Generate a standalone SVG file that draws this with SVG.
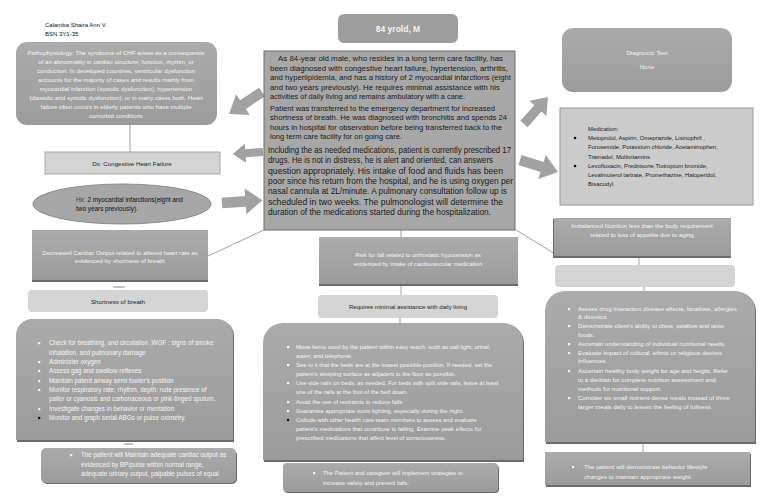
<svg xmlns="http://www.w3.org/2000/svg" width="768" height="497" viewBox="0 0 768 497">
<style>
text{font-family:"Liberation Sans",Arial,sans-serif;}
.w{fill:#f4f4f4;font-size:6.3px;}
.wc{fill:#f4f4f4;font-size:6.1px;text-anchor:middle;}
.d{fill:#222;font-size:6px;}
.dc{fill:#222;font-size:6.2px;text-anchor:middle;}
.m{fill:#1a1a1a;font-size:8px;}
.m3{fill:#1a1a1a;font-size:8.6px;}
.med{fill:#1a1a1a;font-size:5.9px;}
.ci{fill:#f4f4f4;font-size:5.9px;}
.ri{fill:#f4f4f4;font-size:6.1px;}
.conn{stroke:#a3a3a3;stroke-width:1;fill:none;}
.arrow{fill:#a2a2a2;}
.light{fill:#d4d4d4;}
.dark{fill:url(#g1);}
.shadow{fill:#6a6a6a;}
</style>
<defs>
<linearGradient id="g1" x1="0" y1="0" x2="0" y2="1">
<stop offset="0" stop-color="#ababab"/>
<stop offset="1" stop-color="#9b9b9b"/>
</linearGradient>
<path id="arr" d="M0,-5 H22 V-12 L38,0 L22,12 V5 H0 Z"/>
</defs>

<g id="header">
<text class="d" x="45" y="27" style="fill:#111">Calamba Shaira Ann V.</text>
<text class="d" x="45" y="36" style="fill:#111">BSN 3Y1-35</text>
</g>

<g id="connectors">
<line class="conn" x1="130" y1="125" x2="130" y2="152"/>
<line class="conn" x1="208" y1="256" x2="264" y2="230"/>
<line x1="113" y1="287" x2="125" y2="287" stroke="#8a8a8a" stroke-width="1"/>
<line x1="124" y1="444" x2="133" y2="444" stroke="#8a8a8a" stroke-width="1"/>
<line class="conn" x1="401" y1="230" x2="401" y2="237"/>
<line class="conn" x1="401" y1="285" x2="401" y2="295"/>
<line class="conn" x1="400" y1="318" x2="400" y2="323"/>
<line class="conn" x1="513" y1="228" x2="555" y2="254"/>
<line class="conn" x1="639" y1="257" x2="639" y2="265"/>
<line class="conn" x1="644" y1="287" x2="644" y2="292"/>
<line class="conn" x1="643" y1="442" x2="643" y2="452"/>
<use href="#arr" class="arrow" transform="translate(262,92) rotate(146.3) scale(1.04)"/>
<use href="#arr" class="arrow" transform="translate(263,152) rotate(176) scale(0.8)"/>
<use href="#arr" class="arrow" transform="translate(222,203) rotate(-4) scale(1.07)"/>
<use href="#arr" class="arrow" transform="translate(524,124) rotate(-48.4) scale(0.95)"/>
<use href="#arr" class="arrow" transform="translate(520,160) rotate(17.5) scale(1.05)"/>
</g>

<g id="patho">
<rect x="16" y="42" width="201" height="83" rx="11" class="dark"/>
<text class="wc" x="116" y="55">Pathophysiology: The syndrome of CHF arises as a consequence</text>
<text class="wc" x="116" y="64">of an abnormality in cardiac structure, function, rhythm, or</text>
<text class="wc" x="116" y="73">conduction. In developed countries, ventricular dysfunction</text>
<text class="wc" x="116" y="82">accounts for the majority of cases and results mainly from</text>
<text class="wc" x="116" y="91">myocardial infarction (systolic dysfunction), hypertension</text>
<text class="wc" x="116" y="100">(diastolic and systolic dysfunction), or in many cases both. Heart</text>
<text class="wc" x="116" y="109">failure often occurs in elderly patients who have multiple</text>
<text class="wc" x="116" y="118">comorbid conditions</text>
</g>

<g id="dx">
<rect x="45" y="152" width="175" height="22" class="light" stroke="#a8a8a8"/>
<text class="dc" x="132" y="166">Dx: Congestive Heart Failure</text>
</g>

<g id="hx">
<ellipse cx="122" cy="204" rx="89" ry="20" fill="#a6a6a6" stroke="#8c8c8c"/>
<text x="76" y="202" style="font-size:6.4px;fill:#111"><tspan style="fill:#3a3a3a">Hx: </tspan>2 myocardial infarctions(eight and</text>
<text x="76" y="211" style="font-size:6.4px;fill:#111">two years previously).</text>
</g>

<g id="decreased">
<rect x="32" y="231" width="176" height="51" class="shadow"/>
<rect x="32" y="230" width="176" height="50" class="dark"/>
<text class="wc" x="120" y="255">Decreased Cardiac Output related to altered heart rate as</text>
<text class="wc" x="120" y="263">evidenced by shortness of breath</text>
</g>

<g id="shortness">
<rect x="28" y="290" width="180" height="22" rx="4" class="light"/>
<text class="dc" x="118" y="304">Shortness of breath</text>
</g>

<g id="left-interventions">
<path d="M17,442 V336 A16,16 0 0 1 33,320 H218 A16,16 0 0 1 234,336 V442 Z" class="shadow"/>
<path d="M16,440 V335 A16,16 0 0 1 32,319 H217 A16,16 0 0 1 233,335 V440 Z" class="dark"/>
<g fill="#f4f4f4">
<rect x="38" y="342" width="2.2" height="2.2"/>
<rect x="38" y="361" width="2.2" height="2.2"/>
<rect x="38" y="370" width="2.2" height="2.2"/>
<rect x="38" y="380" width="2.2" height="2.2"/>
<rect x="38" y="389" width="2.2" height="2.2"/>
<rect x="38" y="408" width="2.2" height="2.2"/>
</g>
<circle cx="39.1" cy="418" r="1.3" fill="#111"/>
<text class="w" x="49" y="345">Check for breathing, and circulation .WOF : signs of smoke</text>
<text class="w" x="49" y="355">inhalation, and pulmonary damage</text>
<text class="w" x="49" y="364">Administer oxygen</text>
<text class="w" x="49" y="373">Assess gag and swallow reflexes</text>
<text class="w" x="49" y="383">Maintain patent airway semi fowler's position</text>
<text class="w" x="49" y="392">Monitor respiratory rate, rhythm, depth: note presence of</text>
<text class="w" x="49" y="401">pallor or cyanosis and carbonaceous or pink-tinged sputum.</text>
<text class="w" x="49" y="411">Investigate changes in behavior or mentation</text>
<text class="w" x="49" y="420">Monitor and graph serial ABGs or pulse oximetry.</text>
</g>

<g id="left-outcome">
<rect x="42" y="450" width="195" height="34" rx="5" class="shadow"/>
<rect x="41" y="448" width="195" height="35" rx="5" class="dark"/>
<rect x="70" y="454" width="2.2" height="2.2" fill="#f4f4f4"/>
<text class="w" x="81" y="457">The patient will Maintain adequate cardiac output as</text>
<text class="w" x="81" y="467">evidenced by BP/pulse within normal range,</text>
<text class="w" x="81" y="476">adequate urinary output, palpable pulses of equal</text>
</g>

<g id="age">
<rect x="338" y="14" width="120" height="29" rx="6" fill="#9d9d9d"/>
<text x="398" y="32" text-anchor="middle" style="font-size:8.5px;font-weight:bold;fill:#f4f4f4">84 yrold, M</text>
</g>

<g id="case">
<rect x="264" y="51" width="251" height="179" fill="#a7a7a7" stroke="#6e6e6e"/>
<text class="m" x="278" y="61" textLength="225" lengthAdjust="spacingAndGlyphs">As 84-year old male, who resides in a long term care facility, has</text>
<text class="m" x="270" y="70.5" textLength="238" lengthAdjust="spacingAndGlyphs">been diagnosed with congestive heart failure, hypertension, arthritis,</text>
<text class="m" x="270" y="80" textLength="241" lengthAdjust="spacingAndGlyphs">and hyperlipidemia, and has a history of 2 myocardial infarctions (eight</text>
<text class="m" x="270" y="89.5" textLength="230" lengthAdjust="spacingAndGlyphs">and two years previously). He requires minimal assistance with his</text>
<text class="m" x="270" y="99" textLength="195" lengthAdjust="spacingAndGlyphs">activities of daily living and remains ambulatory with a cane.</text>
<text class="m" x="270" y="110.5" textLength="225" lengthAdjust="spacingAndGlyphs">Patient was transferred to the emergency department for increased</text>
<text class="m" x="270" y="120" textLength="237" lengthAdjust="spacingAndGlyphs">shortness of breath. He was diagnosed with bronchitis and spends 24</text>
<text class="m" x="270" y="129.5" textLength="232" lengthAdjust="spacingAndGlyphs">hours in hospital for observation before being transferred back to the</text>
<text class="m" x="270" y="139" textLength="132" lengthAdjust="spacingAndGlyphs">long term care facility for on going care.</text>
<text class="m3" x="268" y="153" textLength="243" lengthAdjust="spacingAndGlyphs">Including the as needed medications, patient is currently prescribed 17</text>
<text class="m3" x="268" y="163.3" textLength="225" lengthAdjust="spacingAndGlyphs">drugs. He is not in distress, he is alert and oriented, can answers</text>
<text class="m3" x="268" y="173.6" textLength="235" lengthAdjust="spacingAndGlyphs">question appropriately. His intake of food and fluids has been</text>
<text class="m3" x="268" y="184" textLength="245" lengthAdjust="spacingAndGlyphs">poor since his return from the hospital, and he is using oxygen per</text>
<text class="m3" x="268" y="194.3" textLength="239" lengthAdjust="spacingAndGlyphs">nasal cannula at 2L/minute. A pulmonary consultation follow up is</text>
<text class="m3" x="268" y="204.6" textLength="235" lengthAdjust="spacingAndGlyphs">scheduled in two weeks. The pulmonologist will determine the</text>
<text class="m3" x="268" y="215" textLength="223" lengthAdjust="spacingAndGlyphs">duration of the medications started during the hospitalization.</text>
</g>

<g id="risk">
<rect x="319" y="238" width="199" height="48" class="shadow"/>
<rect x="319" y="237" width="199" height="47" class="dark"/>
<text class="wc" x="418" y="257" style="font-size:5.9px">Risk for fall related to orthostatic hypotension as</text>
<text class="wc" x="418" y="266" style="font-size:5.9px">evidenced by intake of cardiovascular medication</text>
</g>

<g id="requires">
<rect x="318" y="295" width="180" height="23" rx="4" class="light"/>
<text class="dc" x="408" y="309" style="font-size:6px">Requires minimal assistance with daily living</text>
</g>

<g id="center-interventions">
<path d="M264,462 V344 A20,20 0 0 1 284,324 H504 A20,20 0 0 1 524,344 V462 Z" class="shadow"/>
<path d="M263,460 V343 A20,20 0 0 1 283,323 H503 A20,20 0 0 1 523,343 V460 Z" class="dark"/>
<g fill="#f4f4f4">
<rect x="287" y="346" width="2.2" height="2.2"/>
<rect x="287" y="364" width="2.2" height="2.2"/>
<rect x="287" y="382" width="2.2" height="2.2"/>
<rect x="287" y="401" width="2.2" height="2.2"/>
<rect x="287" y="410" width="2.2" height="2.2"/>
</g>
<circle cx="288.1" cy="420" r="1.3" fill="#111"/>
<text class="ci" x="296" y="349">Move items used by the patient within easy reach, such as call light, urinal,</text>
<text class="ci" x="296" y="358">water, and telephone.</text>
<text class="ci" x="296" y="367">See to it that the beds are at the lowest possible position. If needed, set the</text>
<text class="ci" x="296" y="376">patient's sleeping surface as adjacent to the floor as possible.</text>
<text class="ci" x="296" y="385">Use side rails on beds, as needed. For beds with split side rails, leave at least</text>
<text class="ci" x="296" y="394">one of the rails at the foot of the bed down.</text>
<text class="ci" x="296" y="404">Avoid the use of restraints to reduce falls</text>
<text class="ci" x="296" y="413">Guarantee appropriate room lighting, especially during the night.</text>
<text class="ci" x="296" y="422">Collude with other health care team members to assess and evaluate</text>
<text class="ci" x="296" y="431">patient's medications that contribute to falling. Examine peak effects for</text>
<text class="ci" x="296" y="440">prescribed medications that affect level of consciousness.</text>
</g>

<g id="center-outcome">
<rect x="284" y="465" width="215" height="28" rx="4" class="shadow"/>
<rect x="283" y="463" width="215" height="29" rx="4" class="dark"/>
<rect x="313" y="472" width="2.2" height="2.2" fill="#f4f4f4"/>
<text class="ci" x="323" y="475">The Patient and caregiver will implement strategies to</text>
<text class="ci" x="323" y="485">increase safety and prevent falls.</text>
</g>

<g id="diagnostic">
<rect x="562" y="28" width="170" height="64" rx="11" class="dark"/>
<text class="wc" x="647" y="55">Diagnostic Test</text>
<text class="wc" x="647" y="69">None</text>
</g>

<g id="medication">
<rect x="560" y="108" width="193" height="97" fill="#cbcbcb" stroke="#9a9a9a"/>
<text class="med" x="588" y="131">Medication:</text>
<circle cx="575" cy="138" r="1.3" fill="#111"/>
<circle cx="575" cy="166" r="1.3" fill="#111"/>
<text class="med" x="588" y="140">Metoprolol, Aspirin,  Omeprazole, Lisinophril ,</text>
<text class="med" x="588" y="149">Furosemide, Potassium chloride, Acetaminophen,</text>
<text class="med" x="588" y="159">Tramadol, Multivitamins</text>
<text class="med" x="588" y="168">Levofloxacin, Prednisone,Tiotropium bromide,</text>
<text class="med" x="588" y="177">Levalmuterol tartrate, Promethazine, Haloperidol,</text>
<text class="med" x="588" y="186">Bisacodyl</text>
</g>

<g id="nutrition">
<rect x="553" y="219" width="178" height="39" class="shadow"/>
<rect x="554" y="218" width="177" height="38" class="dark"/>
<text class="wc" x="642" y="228">Imbalanced Nutrition less than the body requirement</text>
<text class="wc" x="642" y="237">related to loss of appetite due to aging</text>
</g>

<g id="empty-box">
<rect x="555" y="265" width="180" height="22" rx="4" class="light"/>
</g>

<g id="right-interventions">
<path d="M546,444 V312 A20,20 0 0 1 566,292 H736 A20,20 0 0 1 756,312 V444 Z" class="shadow"/>
<path d="M545,442 V311 A20,20 0 0 1 565,291 H735 A20,20 0 0 1 755,311 V442 Z" class="dark"/>
<g fill="#f4f4f4">
<rect x="568" y="308" width="2.2" height="2.2"/>
<rect x="568" y="325" width="2.2" height="2.2"/>
<rect x="568" y="343" width="2.2" height="2.2"/>
<rect x="568" y="352" width="2.2" height="2.2"/>
<rect x="568" y="370" width="2.2" height="2.2"/>
<rect x="568" y="397" width="2.2" height="2.2"/>
</g>
<text class="ri" x="578" y="311">Assess drug interaction disease effects, laxatives, allergies</text>
<text class="ri" x="578" y="319">&amp; diuretics</text>
<text class="ri" x="578" y="328">Demonstrate client's ability to chew, swallow and taste</text>
<text class="ri" x="578" y="337">foods.</text>
<text class="ri" x="578" y="346">Ascertain understanding of individual nutritional needs.</text>
<text class="ri" x="578" y="355">Evaluate impact of cultural, ethnic or religious desires</text>
<text class="ri" x="578" y="363">influences.</text>
<text class="ri" x="578" y="373">Ascertain healthy body weight for age and height. Refer</text>
<text class="ri" x="578" y="382">to a dietitian for complete nutrition assessment and</text>
<text class="ri" x="578" y="391">methods for nutritional support.</text>
<text class="ri" x="578" y="400">Consider six small nutrient-dense meals instead of three</text>
<text class="ri" x="578" y="409">larger meals daily to lessen the feeling of fullness.</text>
</g>

<g id="right-outcome">
<rect x="546" y="454" width="205" height="33" class="shadow"/>
<rect x="545" y="452" width="205" height="33" class="dark"/>
<rect x="572" y="466" width="2.2" height="2.2" fill="#f4f4f4"/>
<text class="ri" x="584" y="469">The patient will demonstrate behavior lifestyle</text>
<text class="ri" x="584" y="479">changes to maintain appropriate weight.</text>
</g>
</svg>
